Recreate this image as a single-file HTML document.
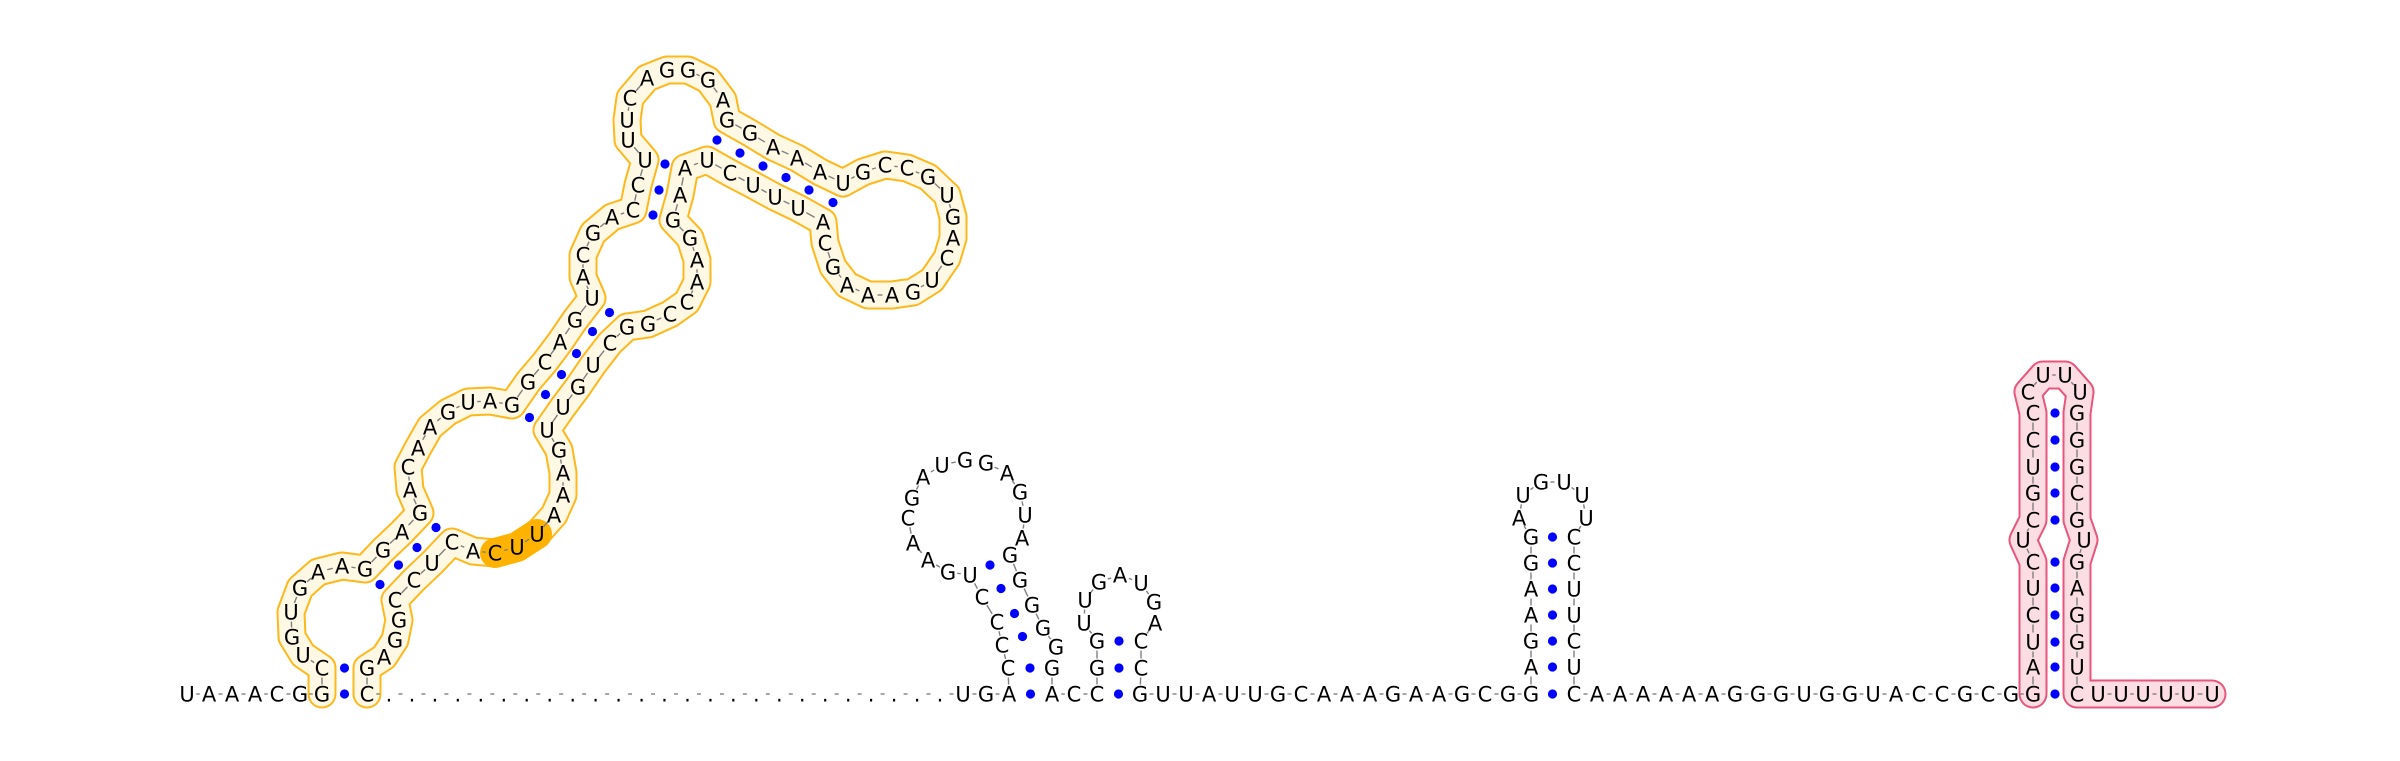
<!DOCTYPE html>
<html>
<head>
<meta charset="utf-8">
<style>
  html,body{margin:0;padding:0;background:#fff;}
  svg{display:block;}
  text{font-family:"DejaVu Sans","Liberation Sans",sans-serif;font-size:21px;fill:#000;}
</style>
</head>
<body>
<svg id="rna" width="2400" height="761" viewBox="0 0 2400 761" xmlns="http://www.w3.org/2000/svg">
  <g id="outlines"></g>
  <g id="highlights"></g>
  <g id="backbone"></g>
  <g id="pairs"></g>
  <g id="letters"></g>
</svg>
<script>
// ---- sequence data: [letter, x, y] in 5'->3' order ----
const lead5 = [["U",187,694],["A",209,694],["A",232,694],["A",255,694],["C",277,694],["G",300,694]];
const orangeDomain = [
["G",322,694],["C",322,668],["U",303,655],["G",292,637],["U",291,612],["G",300,588],["A",318,572],["A",342,566],
["G",365,569],["G",383,550],["A",402,532],["G",420,513],["A",410,490],["C",408,467],["A",418,448],["A",430,427],
["G",448,412],["U",468,402],["A",490,401],["G",512,405],["G",528,382],["C",545,362],["A",560,342],["G",575,320],
["U",592,298],["A",583,277],["C",583,255],["G",593,233],["A",612,217],["C",633,210],["C",638,185],["U",645,160],
["U",628,140],["U",627,120],["C",630,98],["A",647,78],["G",667,70],["G",688,70],["G",708,80],["A",723,100],
["G",727,120],["G",750,133],["A",773,147],["A",797,158],["A",820,172],["U",843,183],["G",863,172],["C",885,165],
["C",907,168],["G",928,177],["U",947,195],["G",953,217],["A",953,238],["C",947,258],["U",932,280],["G",913,292],
["A",892,295],["A",868,295],["A",847,285],["G",833,267],["C",825,243],["A",823,222],["U",798,208],["U",775,197],
["U",753,185],["C",730,173],["U",707,160],["A",685,168],["A",680,195],["G",673,220],["G",690,238],["A",697,260],
["A",697,282],["C",687,302],["C",670,314],["G",648,324],["G",627,327],["C",610,343],["U",593,365],["G",578,387],
["U",563,407],["U",547,430],["G",559,450],["A",563,473],["A",563,495],["A",554,515],["U",537,534],["U",517,547],
["C",495,553],["A",473,551],["C",452,542],["U",432,563],["C",414,580],["C",395,600],["G",399,620],["G",395,640],
["A",384,657],["G",367,668],["C",367,694]];
const gapCount = 25; // '.' gap positions
const mid1 = [["U",963,694],["G",986,694],["A",1009,694],
["C",1008,668],["C",1002,645],["C",997,622],["C",982,597],["U",970,575],["G",948,572],["A",928,560],["A",913,543],
["C",908,518],["G",912,498],["A",923,477],["U",942,465],["G",965,460],["G",986,463],["A",1007,473],["G",1020,492],
["U",1025,515],["A",1022,538],["G",1010,555],["G",1020,580],["G",1032,605],["G",1043,628],["G",1056,647],["G",1052,668],
["A",1052,694],["C",1074,694],["C",1097,694],
["G",1097,668],["G",1097,641],["U",1084,623],["U",1085,600],["G",1099,582],["A",1120,575],["U",1141,583],["G",1154,602],
["A",1155,623],["C",1141,641],["C",1141,668],["G",1140,694]];
const mid2Letters = "UUAUUGCAAAGAAGCG";
const hp3 = [["G",1531,694],["A",1531,667],["G",1531,641],["A",1531,615],["A",1531,589],["G",1531,563],["G",1531,537],
["A",1519,518],["U",1523,495],["G",1541,482],["U",1564,482],["U",1582,495],["U",1586,518],
["C",1574,537],["C",1574,563],["U",1574,589],["U",1574,615],["C",1574,641],["U",1574,667],["C",1574,694]];
const mid3Letters = "AAAAAAGGGUGGUACCGCG";
const pinkDomain = [["G",2033,694],["A",2033,667],["U",2033,642],["C",2033,615],["U",2033,588],["C",2033,562],["U",2023,540],
["C",2033,520],["G",2033,493],["U",2033,467],["C",2033,440],["C",2033,413],["C",2028,392],["U",2043,375],["U",2065,375],
["U",2080,392],["G",2077,413],["G",2077,440],["G",2077,467],["C",2077,493],["G",2077,520],["U",2084,540],["G",2077,562],
["A",2077,588],["G",2077,615],["G",2077,642],["U",2077,667],["C",2077,694],
["U",2098,694],["U",2121,694],["U",2143,694],["U",2166,694],["U",2188,694],["U",2212,694]];
const basePairs = [
[322,694,367,694],[322,668,367,668],[365,569,395,600],[383,550,414,580],[402,532,432,563],[420,513,452,542],
[512,405,547,430],[528,382,563,407],[545,362,578,387],[560,342,593,365],[575,320,610,343],[592,298,627,327],
[633,210,673,220],[638,185,680,195],[645,160,685,168],[727,120,707,160],[750,133,730,173],[773,147,753,185],
[797,158,775,197],[820,172,798,208],[843,183,823,222],
[970,575,1010,555],[982,597,1020,580],[997,622,1032,605],[1002,645,1043,628],[1008,668,1052,668],[1009,694,1052,694],
[1097,694,1140,694],[1097,668,1141,668],[1097,641,1141,641],
[1531,694,1574,694],[1531,667,1574,667],[1531,641,1574,641],[1531,615,1574,615],[1531,589,1574,589],[1531,563,1574,563],[1531,537,1574,537],
[2033,413,2077,413],[2033,440,2077,440],[2033,467,2077,467],[2033,493,2077,493],[2033,520,2077,520],
[2033,562,2077,562],[2033,588,2077,588],[2033,615,2077,615],[2033,642,2077,642],[2033,667,2077,667],[2033,694,2077,694]];
const highlightIdx = [86,87,88]; // U-U-C in orangeDomain

const NS="http://www.w3.org/2000/svg";
function mk(tag, attrs, parent){const e=document.createElementNS(NS,tag);for(const k in attrs)e.setAttribute(k,attrs[k]);parent.appendChild(e);return e;}

const seq=[];
lead5.forEach(n=>seq.push(n));
orangeDomain.forEach(n=>seq.push(n));
const gStart=389, gEnd=940;
for(let i=0;i<gapCount;i++){seq.push([".",gStart+(gEnd-gStart)*i/(gapCount-1),694]);}
mid1.forEach(n=>seq.push(n));
for(let i=0;i<mid2Letters.length;i++){seq.push([mid2Letters[i],1163+i*23,694]);}
hp3.forEach(n=>seq.push(n));
for(let i=0;i<mid3Letters.length;i++){seq.push([mid3Letters[i],1597+i*23,694]);}
pinkDomain.forEach(n=>seq.push(n));

const gO=document.getElementById('outlines');
function outline(list, outer, inner, name){
  const pts=list.map(n=>n[1]+","+n[2]).join(" ");
  const a=mk('polyline',{points:pts,fill:'none',stroke:outer,'stroke-width':29,'stroke-linejoin':'round','stroke-linecap':'round'},gO);
  
  
  const b=mk('polyline',{points:pts,fill:'none',stroke:inner,'stroke-width':25,'stroke-linejoin':'round','stroke-linecap':'round'},gO);
  
  
}
outline(orangeDomain,'#FFB81C','#FFF8E4','orange-domain');
outline(pinkDomain,'#E8557D','#FCDDE4','pink-domain');

const gH=document.getElementById('highlights');
const hp=highlightIdx.map(i=>orangeDomain[i][1]+","+orangeDomain[i][2]).join(" ");
const hl=mk('polyline',{points:hp,fill:'none',stroke:'#FFB300','stroke-width':30,'stroke-linejoin':'round','stroke-linecap':'round'},gH);



const gB=document.getElementById('backbone');
for(let i=0;i<seq.length-1;i++){
  const [,x1,y1]=seq[i],[,x2,y2]=seq[i+1];
  const dx=x2-x1,dy=y2-y1,d=Math.hypot(dx,dy);if(d<22)continue;
  const t=Math.min(0.42, 9.5/d);
  const l=mk('line',{x1:x1+dx*t,y1:y1+dy*t,x2:x2-dx*t,y2:y2-dy*t,stroke:'#808080','stroke-width':1.4},gB);
  
  
}

const gP=document.getElementById('pairs');
basePairs.forEach(p=>{
  const c=mk('circle',{cx:(p[0]+p[2])/2,cy:(p[1]+p[3])/2,r:4.6,fill:'#0000FF'},gP);
  
  
});

const gL=document.getElementById('letters');
seq.forEach(n=>{
  const t=mk('text',{x:n[1],y:n[2]+7.5,'text-anchor':'middle'},gL);
  t.textContent=n[0];
  
  
});
</script>
</body>
</html>
